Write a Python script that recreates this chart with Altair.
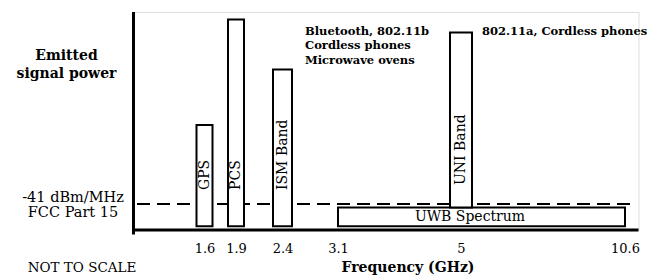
import altair as alt
import pandas as pd

# ---- data -------------------------------------------------------------
bands = ["GPS", "PCS", "ISM Band", "UNI Band"]
band_freq = [1.6, 1.9, 2.4, 5.0]          # GHz (axis is not to scale)
band_top = [48.2, 96.6, 73.6, 90.6]       # relative emitted power
band_bottom = [1.7, 1.7, 1.7, 10.3]

uwb_label = ["UWB Spectrum"]
uwb_lo = [3.1]
uwb_hi = [10.6]
uwb_bottom = [1.7]
uwb_top = [10.3]

fcc_limit = [11.9]                        # -41 dBm/MHz level

tick_values = [1.6, 1.9, 2.4, 3.1, 5, 10.6]

# ---- styling ----------------------------------------------------------
FONT = "DejaVu Serif"
W, H = 505, 218

xscale = alt.Scale(domain=tick_values,
                   range=[71, 102.5, 149, 204.5, 327.5, 491.5],
                   nice=False, zero=False, padding=0)
yscale = alt.Scale(domain=[0, 100], nice=False, zero=False, padding=0)

xaxis = alt.Axis(values=tick_values, labelExpr="datum.value", domain=False,
                 ticks=False, grid=False, title=None, labelFont=FONT,
                 labelFontSize=13, labelColor="black", labelPadding=12,
                 labelFlush=False, labelOverlap=False)

bands_df = pd.DataFrame({"band": bands, "freq": band_freq,
                         "top": band_top, "bottom": band_bottom})
uwb_df = pd.DataFrame({"label": uwb_label, "lo": uwb_lo, "hi": uwb_hi,
                       "bottom": uwb_bottom, "top": uwb_top})
limit_df = pd.DataFrame({"limit": fcc_limit})
one = pd.DataFrame({"k": [0]})

dash = alt.Chart(limit_df).mark_rule(strokeDash=[13, 7], strokeWidth=2,
                                     color="black").encode(
    y=alt.Y("limit:Q", scale=yscale, axis=None),
    x=alt.value(3.5), x2=alt.value(503.5))

uwb = alt.Chart(uwb_df).mark_rect(fill="white", stroke="black",
                                  strokeWidth=2).encode(
    x=alt.X("lo:Q", scale=xscale, axis=xaxis), x2="hi:Q",
    y=alt.Y("bottom:Q", scale=yscale, axis=None), y2="top:Q")

uwb_text = alt.Chart(uwb_df).transform_calculate(
    mid="(datum.bottom + datum.top) / 2").mark_text(
    font=FONT, fontSize=14, color="black", align="center",
    baseline="middle", dx=9).encode(
    x=alt.X(datum=5, scale=xscale, axis=xaxis),
    y=alt.Y("mid:Q", scale=yscale, axis=None),
    text="label:N")

bars = alt.Chart(bands_df).mark_bar(fill="white", stroke="black",
                                    strokeWidth=2).encode(
    x=alt.X("freq:Q", scale=xscale, axis=xaxis),
    y=alt.Y("bottom:Q", scale=yscale, axis=None), y2="top:Q",
    size=alt.when(alt.datum.band == "UNI Band").then(alt.value(22))
           .when(alt.datum.band == "ISM Band").then(alt.value(19))
           .otherwise(alt.value(16)))

labels_low = alt.Chart(bands_df).transform_filter(
    alt.datum.band != "UNI Band").mark_text(
    font=FONT, fontSize=14, color="black", angle=270, align="left",
    baseline="middle").encode(
    x=alt.X("freq:Q", scale=xscale, axis=xaxis), y=alt.value(178),
    text="band:N")

labels_uni = alt.Chart(bands_df).transform_filter(
    alt.datum.band == "UNI Band").mark_text(
    font=FONT, fontSize=14, color="black", angle=270, align="left",
    baseline="middle").encode(
    x=alt.X("freq:Q", scale=xscale, axis=xaxis), y=alt.value(173),
    text="band:N")

vaxis = alt.Chart(one).mark_rule(strokeWidth=3, color="black").encode(
    x=alt.value(0), y=alt.value(0), y2=alt.value(222.5))
haxis = alt.Chart(one).mark_rule(strokeWidth=3, color="black").encode(
    x=alt.value(-1.5), x2=alt.value(W), y=alt.value(218))

def txt(lines, x, y, size, weight="normal", align="center", lh=None):
    kw = dict(text=lines, font=FONT, fontSize=size, fontWeight=weight,
              color="black", align=align, baseline="middle")
    if lh is not None:
        kw["lineHeight"] = lh
    return alt.Chart(one).mark_text(**kw).encode(x=alt.value(x), y=alt.value(y))

# y values below are the centre of the first line of each text block
ylab = txt(["Emitted", "signal power"], -67, 44, 14, "bold", lh=18)
fcc = txt(["-41 dBm/MHz", "FCC Part 15"], -60.5, 186, 14.5, lh=14.5)
nts = txt("NOT TO SCALE", -51.5, 256, 13.5)
xtitle = txt("Frequency (GHz)", 274.5, 256, 14, "bold")
ann1 = txt(["Bluetooth, 802.11b", "Cordless phones", "Microwave ovens"],
           171.5, 19.7, 11.5, "bold", align="left", lh=14.5)
ann2 = txt("802.11a, Cordless phones", 348.5, 20, 11.5, "bold", align="left")

chart = alt.layer(dash, uwb, uwb_text, bars, labels_low, labels_uni,
                  vaxis, haxis, ylab, fcc, nts, xtitle, ann1, ann2).properties(
    width=W, height=H,
    padding={"left": 125.5, "top": 4, "right": 15, "bottom": 46},
    autosize=alt.AutoSizeParams(type="none"),
).configure_view(stroke=None).configure(background="white")

chart.save("out.html", embed_options={"renderer": "svg", "actions": False})
